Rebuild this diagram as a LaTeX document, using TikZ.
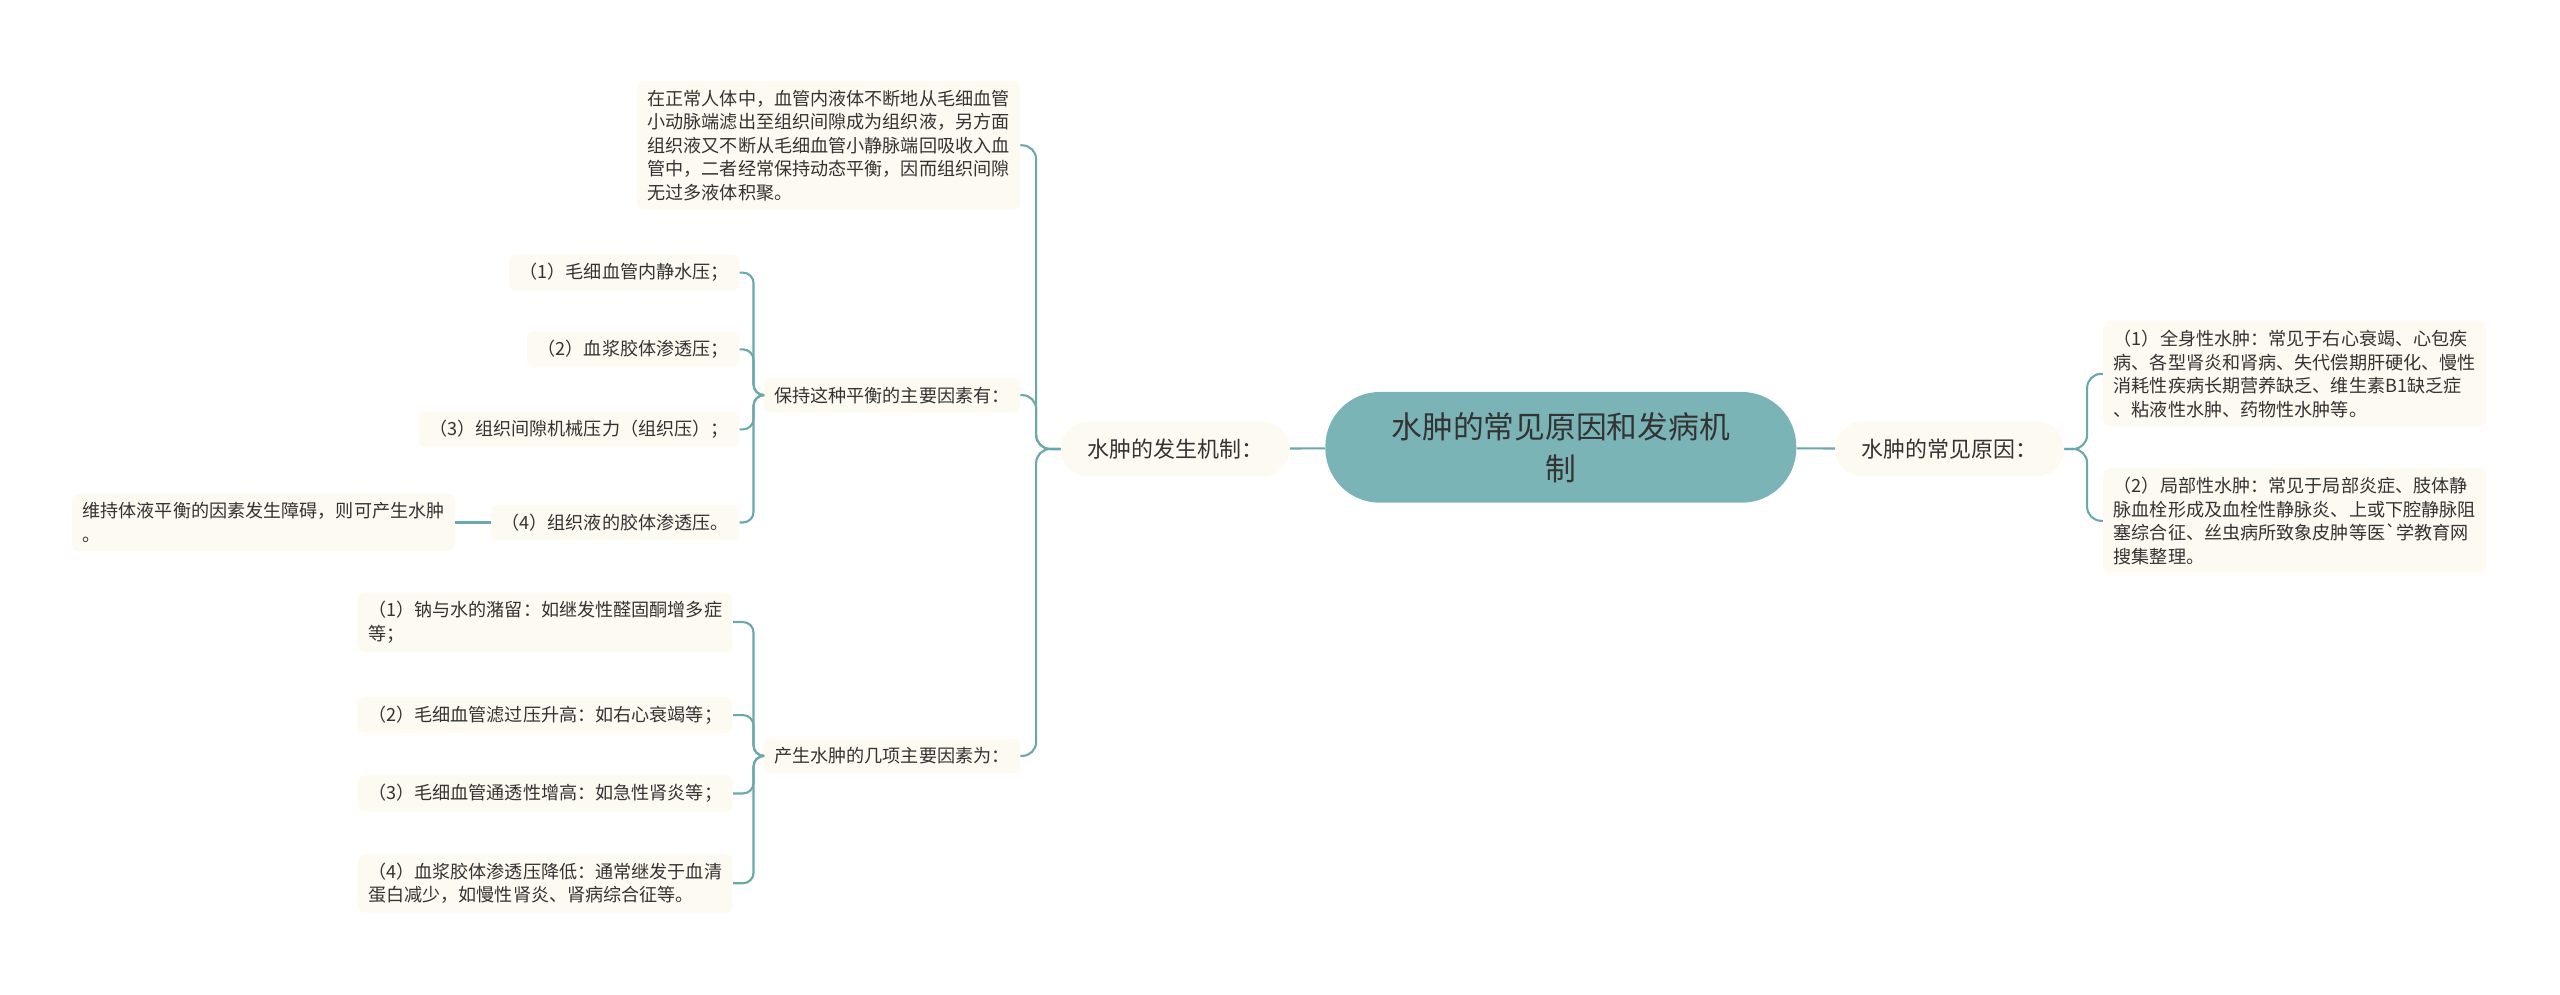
\documentclass[tikz,border=0pt]{standalone}
\usepackage{fontspec}
\setmainfont{Noto Sans CJK SC}
\usetikzlibrary{positioning}

\definecolor{rootfill}{RGB}{122,180,182}
\definecolor{linkcol}{RGB}{107,168,171}
\definecolor{cream}{RGB}{253,250,241}
\definecolor{ink}{RGB}{51,51,51}

\begin{document}
\begin{tikzpicture}[x=0.03265cm, y=-0.03265cm]

  \tikzstyle{root}=[fill=rootfill, rounded corners=31pt, minimum width=268pt, minimum height=63pt, align=center, text=ink, font=\fontsize{17.5}{24}\selectfont]
  \tikzstyle{topic}=[fill=cream, rounded corners=15pt, minimum height=31pt, inner xsep=15pt, text=ink, font=\fontsize{12.5}{15}\selectfont]
  \tikzstyle{leaf}=[fill=cream, rounded corners=4pt, inner xsep=6pt, inner ysep=5pt, align=left, text=ink, font=\fontsize{10.3}{13.4}\selectfont]
  \tikzstyle{straight}=[draw=linkcol, line width=1.2pt]
  \tikzstyle{toleft}=[draw=linkcol, line width=1.2pt, rounded corners=6pt, to path={(\tikztostart.west) -- ++(-6,0) |- (\tikztotarget.east)}]
  \tikzstyle{toleftfar}=[draw=linkcol, line width=1.2pt, rounded corners=8pt, to path={(\tikztostart.west) -- ++(-15,0) |- (\tikztotarget.east)}]
  \tikzstyle{torightfar}=[draw=linkcol, line width=1.2pt, rounded corners=8pt, to path={(\tikztostart.east) -- ++(14,0) |- (\tikztotarget.west)}]

  \useasboundingbox (0,0) rectangle (1568,609);

  \node[root] (root) at (956,274) {水肿的常见原因和发病机\\制};

  % right side
  \node[topic, anchor=west] (cause) at (1124,275) {水肿的常见原因：};
  \node[leaf, anchor=west] (whole) at (1288,229) {（1）全身性水肿：常见于右心衰竭、心包疾\\病、各型肾炎和肾病、失代偿期肝硬化、慢性\\消耗性疾病长期营养缺乏、维生素B1缺乏症\\、粘液性水肿、药物性水肿等。};
  \node[leaf, anchor=west] (local) at (1288,319) {（2）局部性水肿：常见于局部炎症、肢体静\\脉血栓形成及血栓性静脉炎、上或下腔静脉阻\\塞综合征、丝虫病所致象皮肿等医\textasciigrave 学教育网\\搜集整理。};

  % left side
  \node[topic, anchor=east] (mech) at (790,275) {水肿的发生机制：};
  \node[leaf, anchor=east] (normal) at (625,89) {在正常人体中，血管内液体不断地从毛细血管\\小动脉端滤出至组织间隙成为组织液，另方面\\组织液又不断从毛细血管小静脉端回吸收入血\\管中，二者经常保持动态平衡，因而组织间隙\\无过多液体积聚。};
  \node[leaf, anchor=east] (keep) at (625,242) {保持这种平衡的主要因素有：};
  \node[leaf, anchor=east] (make) at (625,463) {产生水肿的几项主要因素为：};

  \node[leaf, anchor=east] (keep1) at (453,167) {（1）毛细血管内静水压；};
  \node[leaf, anchor=east] (keep2) at (453,214) {（2）血浆胶体渗透压；};
  \node[leaf, anchor=east] (keep3) at (453,263) {（3）组织间隙机械压力（组织压）；};
  \node[leaf, anchor=east] (keep4) at (453,320) {（4）组织液的胶体渗透压。};
  \node[leaf] (fail) [left=20pt of keep4] {维持体液平衡的因素发生障碍，则可产生水肿\\。};

  \node[leaf, anchor=east] (make1) at (449,381) {（1）钠与水的潴留：如继发性醛固酮增多症\\等；};
  \node[leaf, anchor=east] (make2) at (449,438) {（2）毛细血管滤过压升高：如右心衰竭等；};
  \node[leaf, anchor=east] (make3) at (449,486) {（3）毛细血管通透性增高：如急性肾炎等；};
  \node[leaf, anchor=east] (make4) at (449,541) {（4）血浆胶体渗透压降低：通常继发于血清\\蛋白减少，如慢性肾炎、肾病综合征等。};

  \path (root) edge [straight] (cause)
        (cause) edge [torightfar] (whole)
        (cause) edge [torightfar] (local)
        (root) edge [straight] (mech)
        (mech) edge [toleftfar] (normal)
        (mech) edge [toleftfar] (keep)
        (mech) edge [toleftfar] (make)
        (keep) edge [toleft] (keep1)
        (keep) edge [toleft] (keep2)
        (keep) edge [toleft] (keep3)
        (keep) edge [toleft] (keep4)
        (keep4) edge [straight] (fail)
        (make) edge [toleft] (make1)
        (make) edge [toleft] (make2)
        (make) edge [toleft] (make3)
        (make) edge [toleft] (make4);

\end{tikzpicture}
\end{document}
